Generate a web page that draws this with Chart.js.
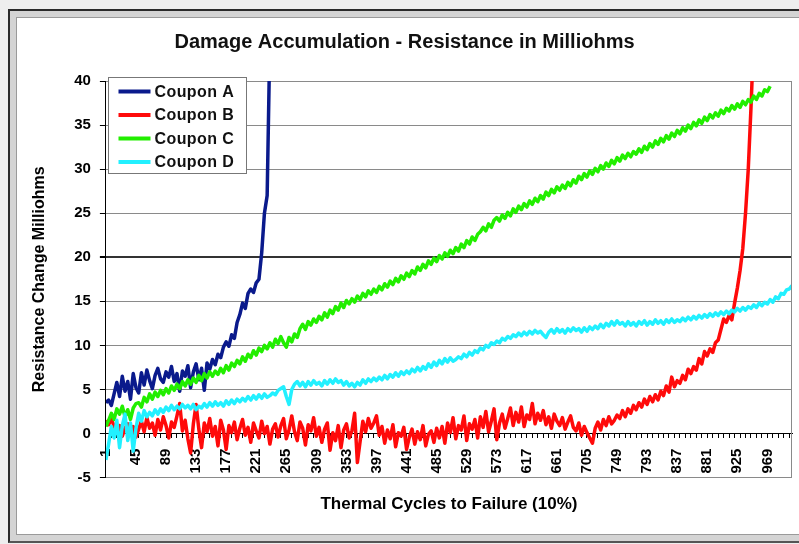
<!DOCTYPE html>
<html>
<head>
<meta charset="utf-8">
<title>Damage Accumulation - Resistance in Milliohms</title>
<script src="https://cdn.jsdelivr.net/npm/chart.js@4"></script>
<style>
html, body { margin: 0; padding: 0; width: 799px; height: 544px; overflow: hidden; background: #eeeeee; }
#frame { position: absolute; left: 8px; top: 9px; width: 840px; height: 530px;
  border-left: 2px solid #2a2a2a; border-top: 2px solid #2a2a2a; border-bottom: 2px solid #555; background: #d4d4d4; }
#inner { position: absolute; left: 6px; top: 6px; width: 830px; height: 516px;
  border-left: 1px solid #9a9a9a; border-top: 1px solid #9a9a9a; border-bottom: 1px solid #9a9a9a; background: #fff; }
canvas { display: block; }
</style>
</head>
<body>
<div id="frame"><div id="inner"><canvas id="damageChart" width="820" height="516"></canvas></div></div>
<script>
// thermal cycle categories, sampled every 4 cycles
const cycles = [];
for (let c = 1; c <= 1005; c += 4) cycles.push(c);

// labels printed under the axis
const tickLabels = [1, 45, 89, 133, 177, 221, 265, 309, 353, 397, 441, 485, 529, 573, 617, 661, 705, 749, 793, 837, 881, 925, 969];

const couponA = [
  3.5, 3.8, 3.2, 4.5, 5.8, 4.2, 6.5, 4.8, 5.9, 3.9,
  6.8, 5.2, 4.6, 6.9, 5.5, 7.2, 6.0, 5.1, 6.6, 7.4,
  6.2, 5.8, 7.0, 6.4, 7.6, 5.9, 6.8, 4.8, 7.1, 6.5,
  7.7, 5.2, 7.0, 7.9, 6.1, 7.4, 4.9, 8.0, 7.3, 8.4,
  7.8, 9.0, 8.6, 9.8, 10.4, 9.9, 11.2, 10.8, 12.6, 13.5,
  14.8, 14.2, 15.9, 16.4, 16.0, 17.1, 17.5, 20.5, 25.0, 27.0,
  45
];

const couponB = [
  1.5, 1.0, 1.7, 0.8, 0.2, 0.9, -0.3, 0.6, 1.1, 0.1,
  0.8, -0.4, 0.5, 1.4, 0.2, 1.8, 0.6, 1.2, -0.2, 1.6,
  0.4, 1.9, 0.9, -0.5, 1.3, 0.7, 2.0, 3.4, 0.3, 1.5,
  -0.6, -2.2, 1.1, 3.3, 0.5, -1.6, 1.2, 0.2, 1.7, -0.3,
  0.8, -1.4, 1.5, 0.4, -1.8, 0.9, 0.1, 1.3, -0.7, 0.6,
  1.6, -0.2, 0.7, -1.0, 1.2, 0.3, -0.5, 1.4, 0.0, 0.8,
  -1.2, 0.5, 1.1, -0.4, 0.9, 1.7, -0.6, 0.4, 2.0, 0.2,
  -0.8, 1.3, 0.6, -1.3, 1.0, 0.3, 1.8, -0.3, 0.7, -1.0,
  0.5, 1.2, -1.9, 0.1, -0.8, 0.9, -1.6, 0.4, 1.1, -0.5,
  0.3, 2.3, -3.3, -0.9, 1.4, 0.2, 1.7, 0.6, 1.2, 2.0,
  -0.2, 0.8, -1.1, 0.4, -0.6, 1.0, -1.5, 0.1, -0.3, 0.7,
  -1.8, -0.4, 0.5, -1.2, 0.2, -0.7, 0.9, -1.4, -0.1, 0.3,
  -1.0, 0.6, -0.5, 0.8, -1.1, 1.2, 0.1, 1.8, -0.6, 0.9,
  0.4, 2.0, -0.8, 1.1, 0.5, 1.6, -0.5, 1.9, 0.7, 2.5,
  0.2, 1.4, 2.8, -0.7, 1.2, 2.2, 0.6, 1.7, 2.9, 0.9,
  2.4, 1.3, 3.0, 0.8, 2.1, 1.6, 3.4, 1.1, 2.3, 1.5,
  2.6, 1.0, 1.9, 0.6, 2.2, 1.4, 0.9, 1.8, 0.5, 1.3,
  2.0, 0.7, 0.3, 1.2, -0.2, 0.8, 0.1, -0.5, -1.1, 0.6,
  1.3, 0.4, 1.6, 0.9, 1.9, 1.1, 1.5, 2.1, 1.7, 2.6,
  1.9, 2.8, 2.3, 3.2, 2.7, 3.5, 3.0, 3.9, 3.3, 4.2,
  3.6, 4.4, 3.8, 4.8, 4.3, 5.4, 4.7, 6.4, 5.3, 6.0,
  5.7, 6.6, 6.1, 7.3, 6.8, 7.6, 7.2, 8.5, 7.9, 9.3,
  8.8, 9.6, 9.2, 10.3, 10.6, 11.8, 13.0, 12.6, 13.4, 12.9,
  14.8, 16.5, 18.5, 21.0, 25.0, 30.0, 37.0, 45
];

const couponC = [
  0.8, 1.5, 2.3, 1.6, 2.8, 2.2, 3.1, 1.9, 2.7, 1.6,
  2.9, 3.4, 3.5, 3.0, 4.1, 3.6, 4.5, 3.9, 4.7, 4.2,
  4.9, 4.4, 5.1, 4.6, 5.4, 4.9, 5.6, 5.1, 5.9, 5.4,
  6.1, 5.6, 6.3, 5.8, 6.6, 6.0, 6.8, 6.3, 7.0, 6.5,
  7.1, 6.7, 7.4, 6.9, 7.7, 7.2, 8.0, 7.6, 8.3, 7.9,
  8.7, 8.2, 9.0, 8.6, 9.4, 8.9, 9.7, 9.3, 10.0, 9.6,
  10.3, 9.8, 10.7, 10.2, 11.0, 10.3, 9.8, 10.9, 10.4, 11.3,
  10.9, 11.9, 12.4, 11.8, 12.7, 12.3, 13.0, 12.6, 13.3, 12.9,
  13.7, 13.2, 14.0, 13.6, 14.4, 14.0, 14.8, 14.3, 15.1, 14.7,
  15.3, 14.9, 15.6, 15.2, 15.9, 15.5, 16.2, 15.8, 16.4, 16.0,
  16.7, 16.3, 17.0, 16.6, 17.3, 16.9, 17.6, 17.2, 17.9, 17.5,
  18.2, 17.8, 18.5, 18.1, 18.9, 18.5, 19.2, 18.8, 19.6, 19.2,
  19.9, 19.5, 20.2, 19.8, 20.5, 20.1, 20.8, 20.4, 21.1, 20.7,
  21.5, 21.1, 21.9, 21.5, 22.3, 21.9, 22.6, 22.9, 23.4, 23.0,
  23.8, 23.4, 24.2, 24.5, 24.1, 24.8, 24.4, 25.1, 24.7, 25.5,
  25.1, 25.8, 25.4, 26.1, 25.7, 26.4, 26.0, 26.7, 26.3, 27.0,
  26.6, 27.4, 27.0, 27.7, 27.3, 28.0, 27.6, 28.2, 27.8, 28.5,
  28.1, 28.8, 28.4, 29.2, 28.8, 29.5, 29.1, 29.8, 29.4, 30.1,
  29.7, 30.4, 30.0, 30.7, 30.3, 31.0, 30.6, 31.3, 30.9, 31.6,
  31.2, 31.8, 31.4, 32.0, 31.7, 32.3, 31.9, 32.6, 32.2, 32.9,
  32.5, 33.2, 32.8, 33.5, 33.1, 33.8, 33.4, 34.1, 33.7, 34.4,
  34.0, 34.7, 34.3, 35.0, 34.6, 35.3, 34.9, 35.6, 35.2, 35.9,
  35.5, 36.2, 35.8, 36.4, 36.0, 36.7, 36.3, 36.9, 36.6, 37.2,
  36.8, 37.4, 37.0, 37.7, 37.3, 37.9, 37.6, 38.3, 37.9, 38.6,
  38.3, 39.0, 38.8, 39.4
];

const couponD = [
  -3.0, -1.2, 0.8, -0.5, 1.5, -1.6, 0.9, 2.2, -0.8, 1.2,
  -2.0, 0.6, 2.3, 1.4, 2.6, 1.9, 2.4, 2.0, 2.7, 2.2,
  2.8, 2.4, 3.0, 2.6, 3.2, 2.7, 3.1, 2.8, 3.3, 2.9,
  3.2, 2.8, 3.3, 2.7, 3.1, 2.9, 3.4, 3.0, 3.5, 3.1,
  3.6, 3.2, 3.5, 3.1, 3.7, 3.3, 3.8, 3.4, 3.9, 3.6,
  4.0, 3.7, 4.2, 3.8, 4.3, 3.9, 4.4, 4.0, 4.5, 4.1,
  4.3, 4.6, 4.4, 4.9, 5.1, 5.3, 4.2, 3.3, 5.0, 5.6,
  5.9, 5.4, 5.8, 5.3, 5.9, 5.5, 6.0, 5.6, 5.8, 5.4,
  6.0, 5.6, 6.1, 5.7, 6.2, 5.8, 6.0, 5.5, 5.9, 5.4,
  5.7, 5.3, 5.8, 5.5, 6.1, 5.7, 6.2, 5.9, 6.3, 6.0,
  6.4, 6.1, 6.6, 6.2, 6.7, 6.4, 6.9, 6.5, 7.0, 6.7,
  7.1, 6.8, 7.3, 7.0, 7.5, 7.1, 7.6, 7.3, 7.9, 7.5,
  8.1, 7.7, 8.3, 7.9, 8.5, 8.1, 8.6, 8.2, 8.4, 8.7,
  8.5, 9.0, 8.7, 9.2, 8.9, 9.4, 9.2, 9.7, 9.5, 10.0,
  9.8, 10.3, 10.1, 10.5, 10.3, 10.8, 10.6, 11.0, 10.8, 11.2,
  11.0, 11.4, 11.1, 11.5, 11.2, 11.6, 11.3, 11.7, 11.4, 11.6,
  11.2, 10.9, 11.5, 11.8, 11.4, 11.9, 11.5, 11.8, 11.4, 11.9,
  11.6, 12.0, 11.7, 11.9, 11.5, 12.0, 11.6, 12.1, 11.8, 12.2,
  11.9, 12.4, 12.0, 12.5, 12.2, 12.7, 12.3, 12.8, 12.4, 12.6,
  12.2, 12.7, 12.3, 12.6, 12.2, 12.7, 12.4, 12.8, 12.3, 12.7,
  12.4, 12.9, 12.5, 12.8, 12.4, 12.9, 12.6, 13.0, 12.6, 12.9,
  12.7, 13.1, 12.8, 13.2, 12.9, 13.3, 13.0, 13.4, 13.1, 13.5,
  13.2, 13.6, 13.3, 13.7, 13.4, 13.8, 13.5, 13.9, 13.6, 14.0,
  13.8, 14.2, 13.9, 14.3, 14.0, 14.4, 14.2, 14.6, 14.3, 14.8,
  14.5, 14.9, 14.7, 15.2, 14.9, 15.5, 15.3, 15.9, 15.8, 16.3,
  16.4, 16.8
];

const yTicks = [-5, 0, 5, 10, 15, 20, 25, 30, 35, 40];

Chart.defaults.font.family = "'Liberation Sans', Arial, sans-serif";
Chart.defaults.color = '#000';

// plot frame on the right plus the boxed legend in the top-left corner
const excelBits = {
    id: 'excelBits',
    afterDraw(chart) {
        const { ctx, chartArea: a } = chart;
        ctx.save();
        ctx.strokeStyle = '#8a8a8a';
        ctx.lineWidth = 1;
        ctx.beginPath();
        ctx.moveTo(Math.round(a.right) - 0.5, a.top);
        ctx.lineTo(Math.round(a.right) - 0.5, a.bottom);
        ctx.stroke();

        const bx = Math.round(a.left) + 2.5, by = Math.round(a.top) - 3.5;
        ctx.fillStyle = '#fff';
        ctx.fillRect(bx, by, 138, 96);
        ctx.strokeStyle = '#777';
        ctx.strokeRect(bx, by, 138, 96);

        ctx.font = "bold 16px 'Liberation Sans', Arial, sans-serif";
        ctx.letterSpacing = '0.4px';
        ctx.textBaseline = 'middle';
        ctx.fillStyle = '#111';
        chart.data.datasets.forEach((ds, k) => {
            const y = by + 14 + k * 23.5;
            ctx.strokeStyle = ds.borderColor;
            ctx.lineWidth = 4;
            ctx.beginPath();
            ctx.moveTo(bx + 10, y);
            ctx.lineTo(bx + 42, y);
            ctx.stroke();
            ctx.fillText(ds.label, bx + 46, y + 1);
        });
        ctx.restore();
    }
};

const ctx = document.getElementById('damageChart').getContext('2d');
new Chart(ctx, {
    type: 'line',
    data: {
        labels: cycles,
        datasets: [
            { label: 'Coupon A', data: couponA, borderColor: '#0a1a8c', order: 4 },
            { label: 'Coupon B', data: couponB, borderColor: '#ff0a0a', order: 3 },
            { label: 'Coupon C', data: couponC, borderColor: '#22ee00', order: 2 },
            { label: 'Coupon D', data: couponD, borderColor: '#22f0ff', order: 1 }
        ]
    },
    options: {
        responsive: false,
        animation: false,
        events: [],
        layout: { padding: { left: 0, right: 45, top: 0, bottom: 0 } },
        elements: {
            line: { borderWidth: 3.5, tension: 0, fill: false, borderJoinStyle: 'round' },
            point: { radius: 0 }
        },
        datasets: { line: { clip: 0 } },
        plugins: {
            legend: { display: false },
            tooltip: { enabled: false },
            title: {
                display: true,
                text: 'Damage Accumulation - Resistance in Milliohms',
                color: '#111',
                font: { size: 20, weight: 'bold' },
                padding: { top: 12, bottom: 27 }
            }
        },
        scales: {
            x: {
                type: 'category',
                axis: 'x',
                position: { y: 0 },
                grid: {
                    display: true,
                    drawOnChartArea: false,
                    drawTicks: true,
                    tickLength: 4,
                    tickColor: (c) => (c.index % 2 === 0 ? '#000' : 'rgba(0,0,0,0)')
                },
                border: { display: true, color: '#000', width: 1 },
                ticks: {
                    autoSkip: false,
                    minRotation: 90,
                    maxRotation: 90,
                    padding: 11,
                    font: { size: 15, weight: 'bold' },
                    callback: function (value) {
                        const lab = this.getLabelForValue(value);
                        return tickLabels.includes(lab) ? String(lab) : '';
                    }
                }
            },
            xTitle: {
                type: 'category',
                axis: 'x',
                position: 'bottom',
                display: true,
                grid: { display: false, drawTicks: false },
                border: { display: false },
                ticks: { display: false },
                title: {
                    display: true,
                    text: 'Thermal Cycles to Failure (10%)',
                    font: { size: 17, weight: 'bold' },
                    padding: { top: 17, bottom: 19 }
                }
            },
            y: {
                type: 'linear',
                position: 'left',
                min: yTicks[0],
                max: yTicks[yTicks.length - 1],
                afterBuildTicks: (s) => { s.ticks = yTicks.map(v => ({ value: v })); },
                grid: {
                    color: (c) => (c.tick && c.tick.value === 20 ? '#333' : '#8a8a8a'),
                    lineWidth: (c) => (c.tick && c.tick.value === 20 ? 2 : 1),
                    drawTicks: true,
                    tickLength: 6,
                    tickColor: '#000'
                },
                border: { display: true, color: '#000', width: 1 },
                ticks: {
                    padding: 9,
                    font: { size: 15, weight: 'bold' }
                },
                title: {
                    display: true,
                    text: 'Resistance Change Milliohms',
                    font: { size: 16, weight: 'bold' },
                    padding: { top: 13, bottom: 16 }
                }
            }
        }
    },
    plugins: [excelBits]
});
</script>
</body>
</html>
